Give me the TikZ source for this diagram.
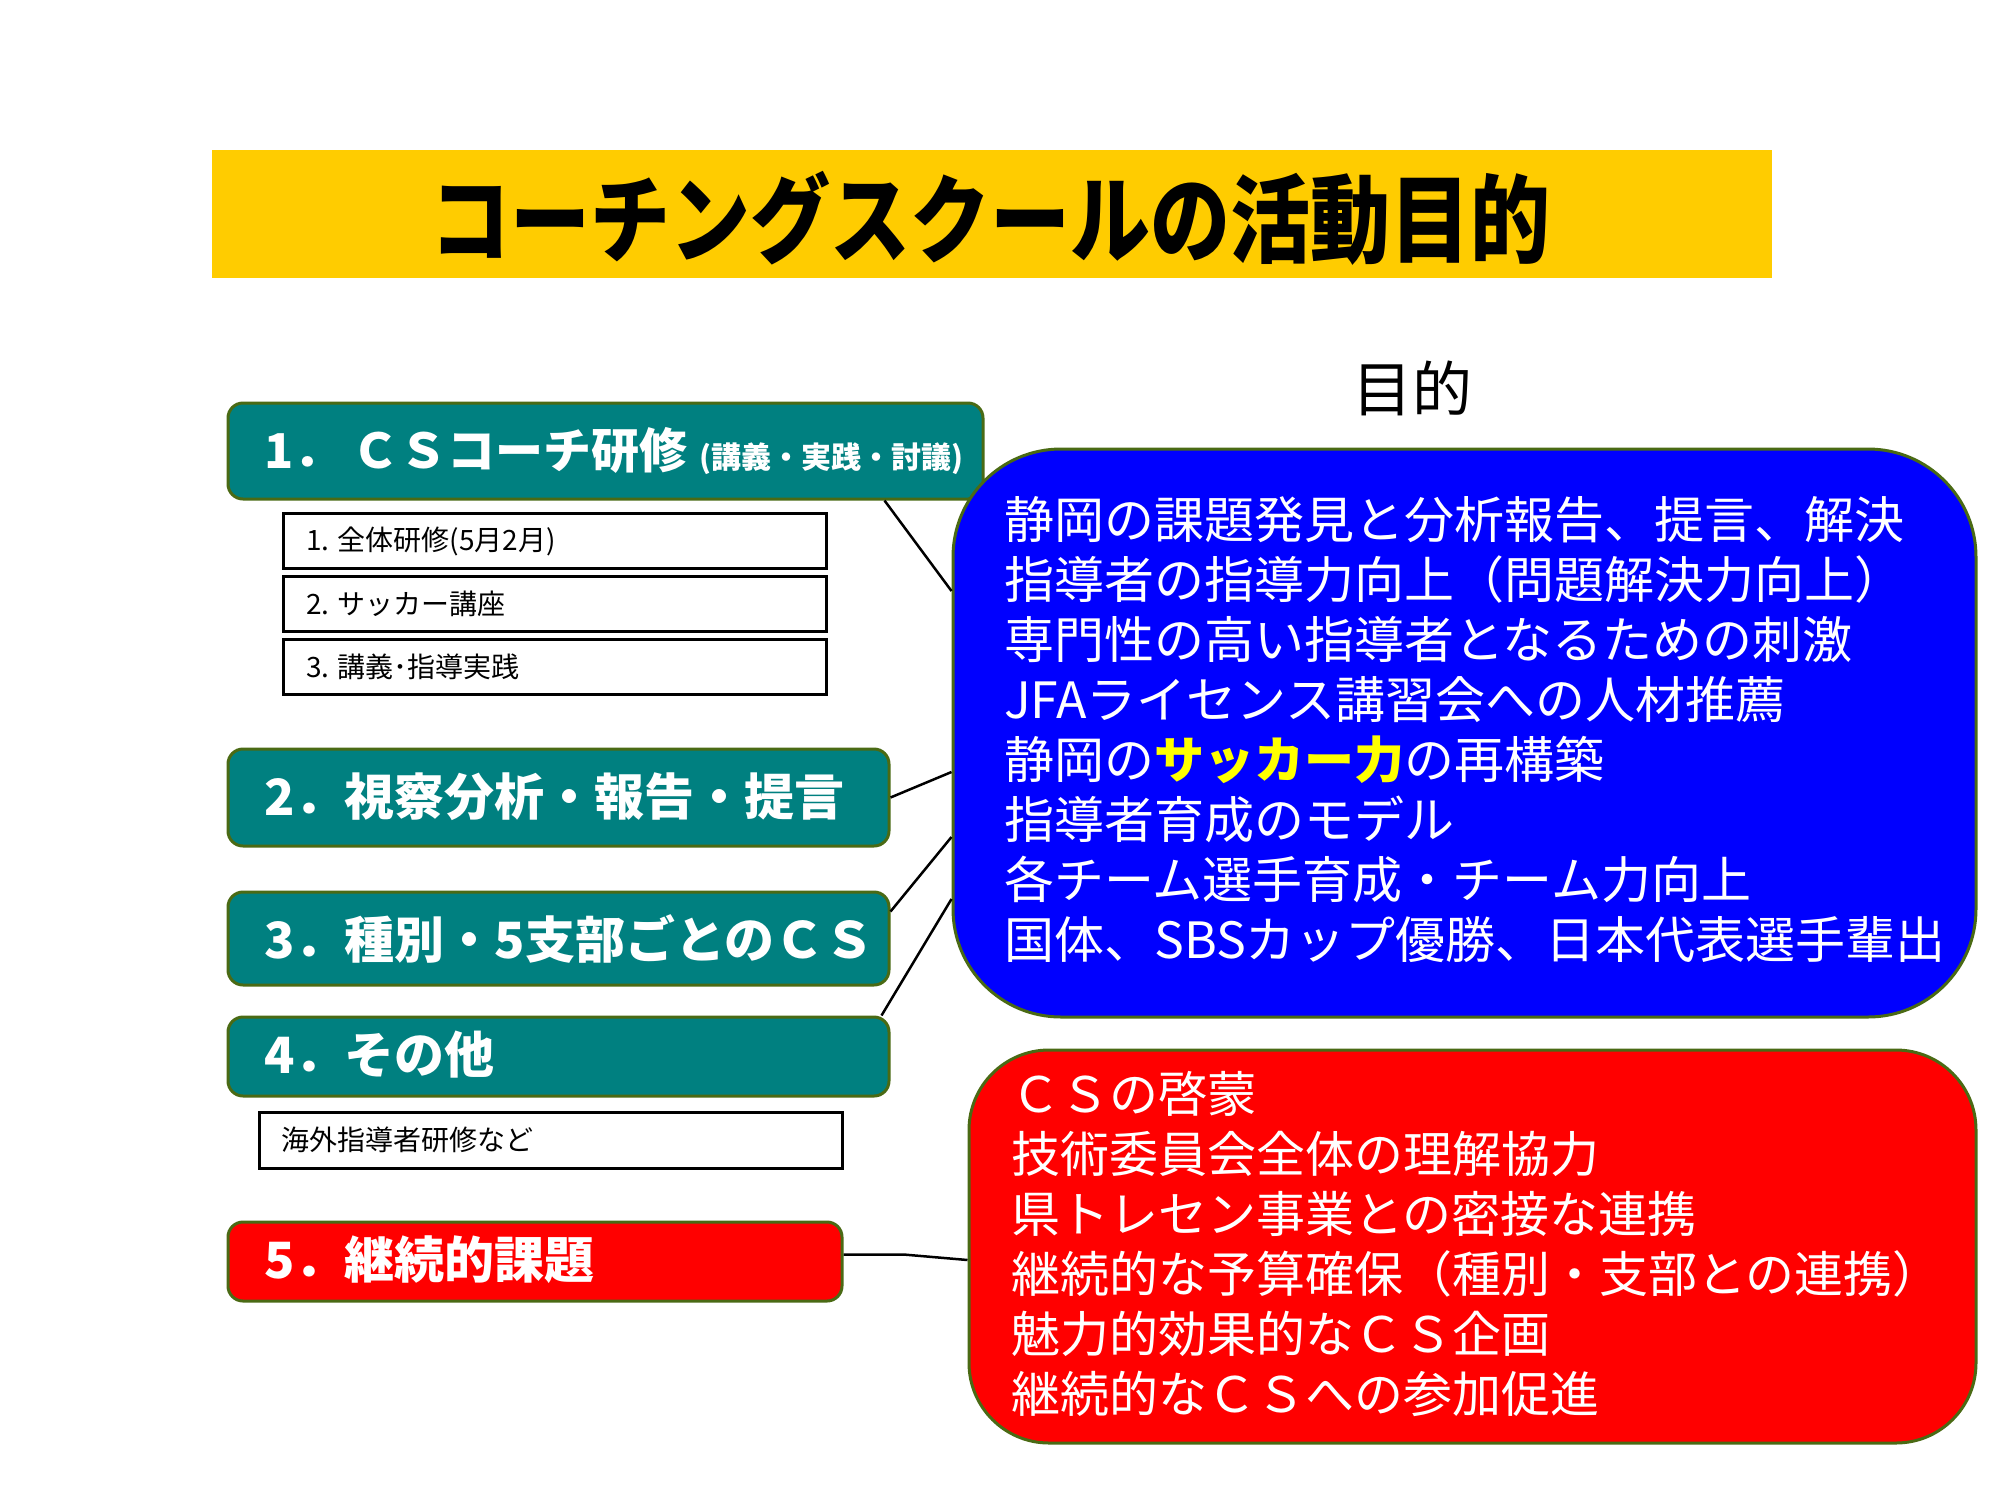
\documentclass[tikz,border=0pt]{standalone}
\usepackage{fontspec}
\usepackage{graphicx}
\setmainfont{Noto Sans CJK JP}
\definecolor{tealfill}{HTML}{008080}
\definecolor{bgreen}{HTML}{4A6A14}
\definecolor{bannerfill}{HTML}{FFCC00}
\definecolor{bluefill}{HTML}{0000FF}
\definecolor{redfill}{HTML}{FF0000}
\definecolor{yel}{HTML}{FFFF00}
\begin{document}
\begin{tikzpicture}[x=1pt,y=-1pt,
  tealbox/.style={draw=bgreen, line width=3pt, fill=tealfill, rounded corners=15pt, inner sep=0pt},
  redbox/.style={draw=bgreen, line width=3pt, fill=redfill, rounded corners=15pt, inner sep=0pt},
  subbox/.style={draw=black, line width=3pt, fill=white, inner sep=0pt},
  bigbox/.style={draw=bgreen, line width=3pt, inner sep=0pt},
  headtext/.style={anchor=west, inner sep=0pt, text=white, font=\fontsize{50}{52}\selectfont\bfseries},
  subtext/.style={anchor=west, inner sep=0pt, text=black, font=\fontsize{28}{30}\selectfont},
  listtext/.style={anchor=west, inner sep=0pt, text=white, align=left},
  conn/.style={draw=black, line width=2.5pt}
]
\path[use as bounding box, fill=white] (0,0) rectangle (2000,1500);

% title banner
\node[fill=bannerfill, minimum width=1560pt, minimum height=128pt, inner sep=0pt] (banner) at (992,214) {};
\node[inner sep=0pt, font=\fontsize{80}{80}\selectfont\bfseries] (titletxt) at (990,218) {\scalebox{1}[1.2]{コーチングスクールの活動目的}};

% purpose label
\node[inner sep=0pt, font=\fontsize{60}{60}\selectfont] (purpose) at (1412,388) {目的};

% left boxes
\node[tealbox, minimum width=755pt, minimum height=96pt] (box1) at (605.5,451) {};
\node[headtext, font=\fontsize{48}{50}\selectfont\bfseries] (t1) at (264,451) {1．\hspace{10pt}ＣＳコーチ研修\hspace{12pt}{\fontsize{30}{30}\selectfont (講義・実践・討議)}};

\node[subbox, minimum width=543pt, minimum height=55pt] (sub1) at (554.5,541) {};
\node[subtext] (s1) at (306,541) {1. 全体研修(5月2月)};
\node[subbox, minimum width=543pt, minimum height=55pt] (sub2) at (554.5,604) {};
\node[subtext] (s2) at (306,604) {2. サッカー講座};
\node[subbox, minimum width=543pt, minimum height=55pt] (sub3) at (554.5,667) {};
\node[subtext] (s3) at (306,667) {3. 講義･指導実践};

\node[tealbox, minimum width=661pt, minimum height=97pt] (box2) at (558.5,797.5) {};
\node[headtext] (t2) at (264,797) {2．視察分析・報告・提言};

\node[tealbox, minimum width=661pt, minimum height=93pt] (box3) at (558.5,938.5) {};
\node[headtext] (t3) at (264,939) {3．種別・5支部ごとのＣＳ};

\node[tealbox, minimum width=661pt, minimum height=79pt] (box4) at (558.5,1056.5) {};
\node[headtext] (t4) at (264,1055) {4．その他};

\node[subbox, minimum width=583pt, minimum height=56pt] (sub4) at (550.5,1140) {};
\node[subtext] (s4) at (281,1140) {海外指導者研修など};

\node[redbox, minimum width=614pt, minimum height=79pt] (box5) at (535,1261.5) {};
\node[headtext] (t5) at (264,1260) {5．継続的課題};

% right boxes
\node[bigbox, fill=bluefill, rounded corners=108pt, minimum width=1023pt, minimum height=568pt] (blue) at (1464.5,733) {};
\node[listtext, font=\fontsize{50}{60}\selectfont] (bluetxt) at (1004,730) {%
静岡の課題発見と分析報告、提言、解決\\
指導者の指導力向上（問題解決力向上）\\
専門性の高い指導者となるための刺激\\
JFAライセンス講習会への人材推薦\\
静岡の{\bfseries\color{yel}サッカー力}の再構築\\
指導者育成のモデル\\
各チーム選手育成・チーム力向上\\
国体、SBSカップ優勝、日本代表選手輩出};

\node[bigbox, fill=redfill, rounded corners=80pt, minimum width=1007pt, minimum height=393pt] (red) at (1472.5,1246.5) {};
\node[listtext, font=\fontsize{49}{60}\selectfont] (redtxt) at (1011,1244) {%
ＣＳの啓蒙\\
技術委員会全体の理解協力\\
県トレセン事業との密接な連携\\
継続的な予算確保（種別・支部との連携）\\
魅力的効果的なＣＳ企画\\
継続的なＣＳへの参加促進};

% connectors
\draw[conn] ([xshift=-100pt]box1.south east) -- ([yshift=142pt]blue.west);
\draw[conn] (box2.east) -- ([yshift=-39pt]blue.west);
\draw[conn] ([yshift=-21pt]box3.north east) -- ([yshift=-104pt]blue.west);
\draw[conn] ([xshift=-9pt]box4.north east) -- ([yshift=-166pt]blue.west);
\draw[conn] ([yshift=7pt]box5.east) -- ++(60,0) -- ([yshift=-13.5pt]red.west);
\end{tikzpicture}
\end{document}
